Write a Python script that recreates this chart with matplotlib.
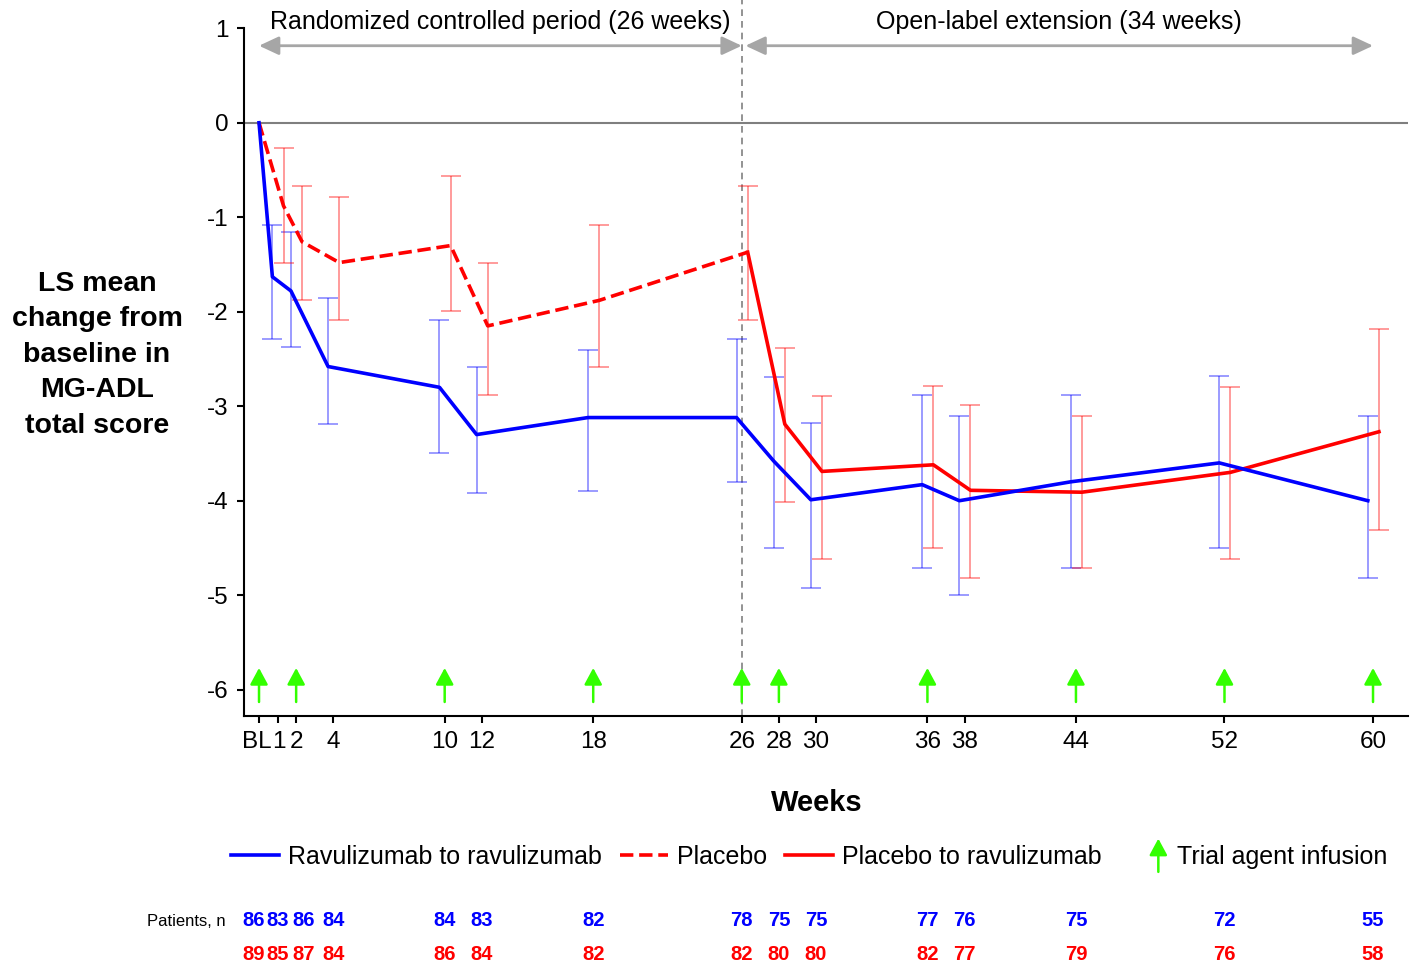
import numpy as np
import matplotlib
matplotlib.use('Agg')
import matplotlib.pyplot as plt
import matplotlib.transforms as mtransforms
from matplotlib.legend_handler import HandlerBase
from matplotlib.patches import FancyArrowPatch
from matplotlib.lines import Line2D

plt.rcParams['font.family'] = ['Liberation Sans', 'DejaVu Sans']
plt.rcParams['axes.unicode_minus'] = False

# ---------------- data ----------------
weeks = np.array([0, 1, 2, 4, 10, 12, 18, 26, 28, 30, 36, 38, 44, 52, 60])
week_labels = ['BL', '1', '2', '4', '10', '12', '18', '26', '28', '30', '36', '38', '44', '52', '60']

# Ravulizumab to ravulizumab
rav_mean = np.array([0, -1.63, -1.78, -2.58, -2.80, -3.30, -3.12, -3.12, -3.58, -3.99, -3.83, -4.00, -3.80, -3.60, -4.00])
rav_hi = np.array([0, -1.08, -1.16, -1.86, -2.09, -2.59, -2.40, -2.29, -2.69, -3.18, -2.88, -3.10, -2.88, -2.68, -3.10])
rav_lo = np.array([0, -2.29, -2.37, -3.19, -3.49, -3.92, -3.90, -3.80, -4.50, -4.92, -4.71, -5.00, -4.71, -4.50, -4.82])

# Placebo (randomized controlled period)
pbo_weeks = np.array([0, 1, 2, 4, 10, 12, 18, 26])
pbo_mean = np.array([0, -0.88, -1.26, -1.48, -1.30, -2.15, -1.88, -1.37])
pbo_hi = np.array([0, -0.27, -0.67, -0.79, -0.56, -1.48, -1.08, -0.67])
pbo_lo = np.array([0, -1.48, -1.88, -2.09, -1.99, -2.88, -2.59, -2.09])

# Placebo to ravulizumab (open-label extension)
p2r_weeks = np.array([26, 28, 30, 36, 38, 44, 52, 60])
p2r_mean = np.array([-1.37, -3.19, -3.69, -3.62, -3.89, -3.91, -3.70, -3.27])
p2r_hi = np.array([np.nan, -2.38, -2.89, -2.79, -2.99, -3.10, -2.80, -2.18])
p2r_lo = np.array([np.nan, -4.01, -4.62, -4.50, -4.82, -4.71, -4.62, -4.31])

infusion_weeks = [0, 2, 10, 18, 26, 28, 36, 44, 52, 60]

n_rav = [86, 83, 86, 84, 84, 83, 82, 78, 75, 75, 77, 76, 75, 72, 55]
n_pbo = [89, 85, 87, 84, 86, 84, 82, 82, 80, 80, 82, 77, 79, 76, 58]

period_labels = ['Randomized controlled period (26 weeks)', 'Open-label extension (34 weeks)']

# ---------------- style ----------------
BLUE = '#0000ff'
RED = '#ff0000'
GREEN = '#33ff00'
GRAY = '#a6a6a6'
LW = 2.6
BLUE_OFF = -0.28
RED_OFF = 0.32

fig = plt.figure(figsize=(14.16, 9.64), dpi=100)
ax = fig.add_axes([0.1723, 0.2573, 0.822, 0.7134])
ax.set_xlim(-0.81, 61.88)
ax.set_ylim(-6.278, 1.0)

rav_x = np.where(weeks > 0, weeks + BLUE_OFF, weeks)
pbo_x = np.where(pbo_weeks > 0, pbo_weeks + RED_OFF, pbo_weeks)
p2r_x = p2r_weeks + RED_OFF

# reference lines
ax.axhline(0, color='#7f7f7f', lw=1.5, zorder=1)
ax.axvline(26, ymin=0, ymax=1.041, color='#808080', lw=1.2, ls=(0, (4, 3)),
           clip_on=False, zorder=1)

# error bars
eb_kw = dict(fmt='none', elinewidth=1.1, capsize=7, capthick=1.1, alpha=0.5, zorder=2)
ax.errorbar(rav_x[1:], rav_mean[1:], yerr=[rav_mean[1:] - rav_lo[1:], rav_hi[1:] - rav_mean[1:]],
            ecolor=BLUE, **eb_kw)
ax.errorbar(pbo_x[1:], pbo_mean[1:], yerr=[pbo_mean[1:] - pbo_lo[1:], pbo_hi[1:] - pbo_mean[1:]],
            ecolor=RED, **eb_kw)
ax.errorbar(p2r_x[1:], p2r_mean[1:], yerr=[p2r_mean[1:] - p2r_lo[1:], p2r_hi[1:] - p2r_mean[1:]],
            ecolor=RED, **eb_kw)

# lines
ax.plot(pbo_x, pbo_mean, color=RED, lw=LW, ls='--', zorder=3)
ax.plot(p2r_x, p2r_mean, color=RED, lw=LW, zorder=3)
ax.plot(rav_x, rav_mean, color=BLUE, lw=LW, zorder=4)

# infusion arrows
for w in infusion_weeks:
    ax.annotate('', xy=(w, -5.77), xytext=(w, -6.13),
                arrowprops=dict(arrowstyle='-|>,head_length=0.5,head_width=0.27',
                                mutation_scale=20, color=GREEN, lw=1.8,
                                shrinkA=0, shrinkB=0))

# period arrows and labels
arrow_kw = dict(arrowstyle='<|-|>,head_length=0.6,head_width=0.28', mutation_scale=20,
                color=GRAY, lw=2.0, shrinkA=0, shrinkB=0)
ax.annotate('', xy=(26, 0.815), xytext=(0, 0.815), arrowprops=arrow_kw, annotation_clip=False)
ax.annotate('', xy=(60, 0.815), xytext=(26.2, 0.815), arrowprops=arrow_kw, annotation_clip=False)
ax.text(13, 1.07, period_labels[0], ha='center', va='center', fontsize=18)
ax.text(43.1, 1.07, period_labels[1], ha='center', va='center', fontsize=18)

# axes styling
ax.set_xticks(weeks)
ax.set_xticklabels(week_labels)
ax.set_yticks(np.arange(-6, 2, 1))
ax.tick_params(axis='both', labelsize=17.5, width=1.5, length=5, direction='out')
ax.tick_params(axis='x', pad=6)
ax.tick_params(axis='y', pad=6)
for s in ['top', 'right']:
    ax.spines[s].set_visible(False)
for s in ['left', 'bottom']:
    ax.spines[s].set_linewidth(1.5)
# tiny horizontal nudges so the crowded first labels do not touch
xt = ax.get_xticklabels()
for lab, dx in zip(xt[:2], [-2.5, 1.5]):
    lab.set_transform(lab.get_transform() + mtransforms.ScaledTranslation(dx / 100, 0, fig.dpi_scale_trans))

fig.text(0.0685, 0.632, 'LS mean\nchange from\nbaseline in\nMG-ADL\ntotal score',
         ha='center', va='center', fontsize=20.5, fontweight='bold', linespacing=1.48)
fig.text(0.577, 0.167, 'Weeks', ha='center', va='center', fontsize=21, fontweight='bold')


# legend
class InfusionHandle:
    pass


class HandlerArrow(HandlerBase):
    def create_artists(self, legend, orig_handle, xdescent, ydescent, width, height, fontsize, trans):
        x = -xdescent + width * 0.8
        y0 = -ydescent - 0.45 * height
        y1 = -ydescent + 1.45 * height
        a = FancyArrowPatch((x, y0), (x, y1),
                            arrowstyle='-|>,head_length=0.5,head_width=0.27',
                            mutation_scale=20, color=GREEN, lw=1.8,
                            shrinkA=0, shrinkB=0, transform=trans)
        return [a]


handles = [Line2D([], [], color=BLUE, lw=LW),
           Line2D([], [], color=RED, lw=LW, ls='--'),
           Line2D([], [], color=RED, lw=LW),
           InfusionHandle()]
labels = ['Ravulizumab to ravulizumab', 'Placebo', 'Placebo to ravulizumab', 'Trial agent infusion']
fig.legend(handles, labels, loc='center', bbox_to_anchor=(0.5713, 0.111), ncol=4,
           frameon=False, fontsize=18, handlelength=1.95, handletextpad=0.35,
           columnspacing=0.7, borderpad=0, handler_map={InfusionHandle: HandlerArrow()})

# patient numbers
blend = mtransforms.blended_transform_factory(ax.transData, fig.transFigure)
fig.text(226 / 1416, 1 - 921.5 / 964, 'Patients, n', ha='right', va='center', fontsize=12)
nudge = {0: -5, 2: 7}
for i, w in enumerate(weeks):
    dx = nudge.get(i, 0)
    ax.annotate(str(n_rav[i]), xy=(w, 1 - 921 / 964), xycoords=blend, xytext=(dx, 0),
                textcoords='offset pixels', ha='center', va='center', fontsize=14.5,
                fontweight='bold', color=BLUE, annotation_clip=False)
    ax.annotate(str(n_pbo[i]), xy=(w, 1 - 955 / 964), xycoords=blend, xytext=(dx, 0),
                textcoords='offset pixels', ha='center', va='center', fontsize=14.5,
                fontweight='bold', color=RED, annotation_clip=False)

fig.savefig('out.png', dpi=100)
